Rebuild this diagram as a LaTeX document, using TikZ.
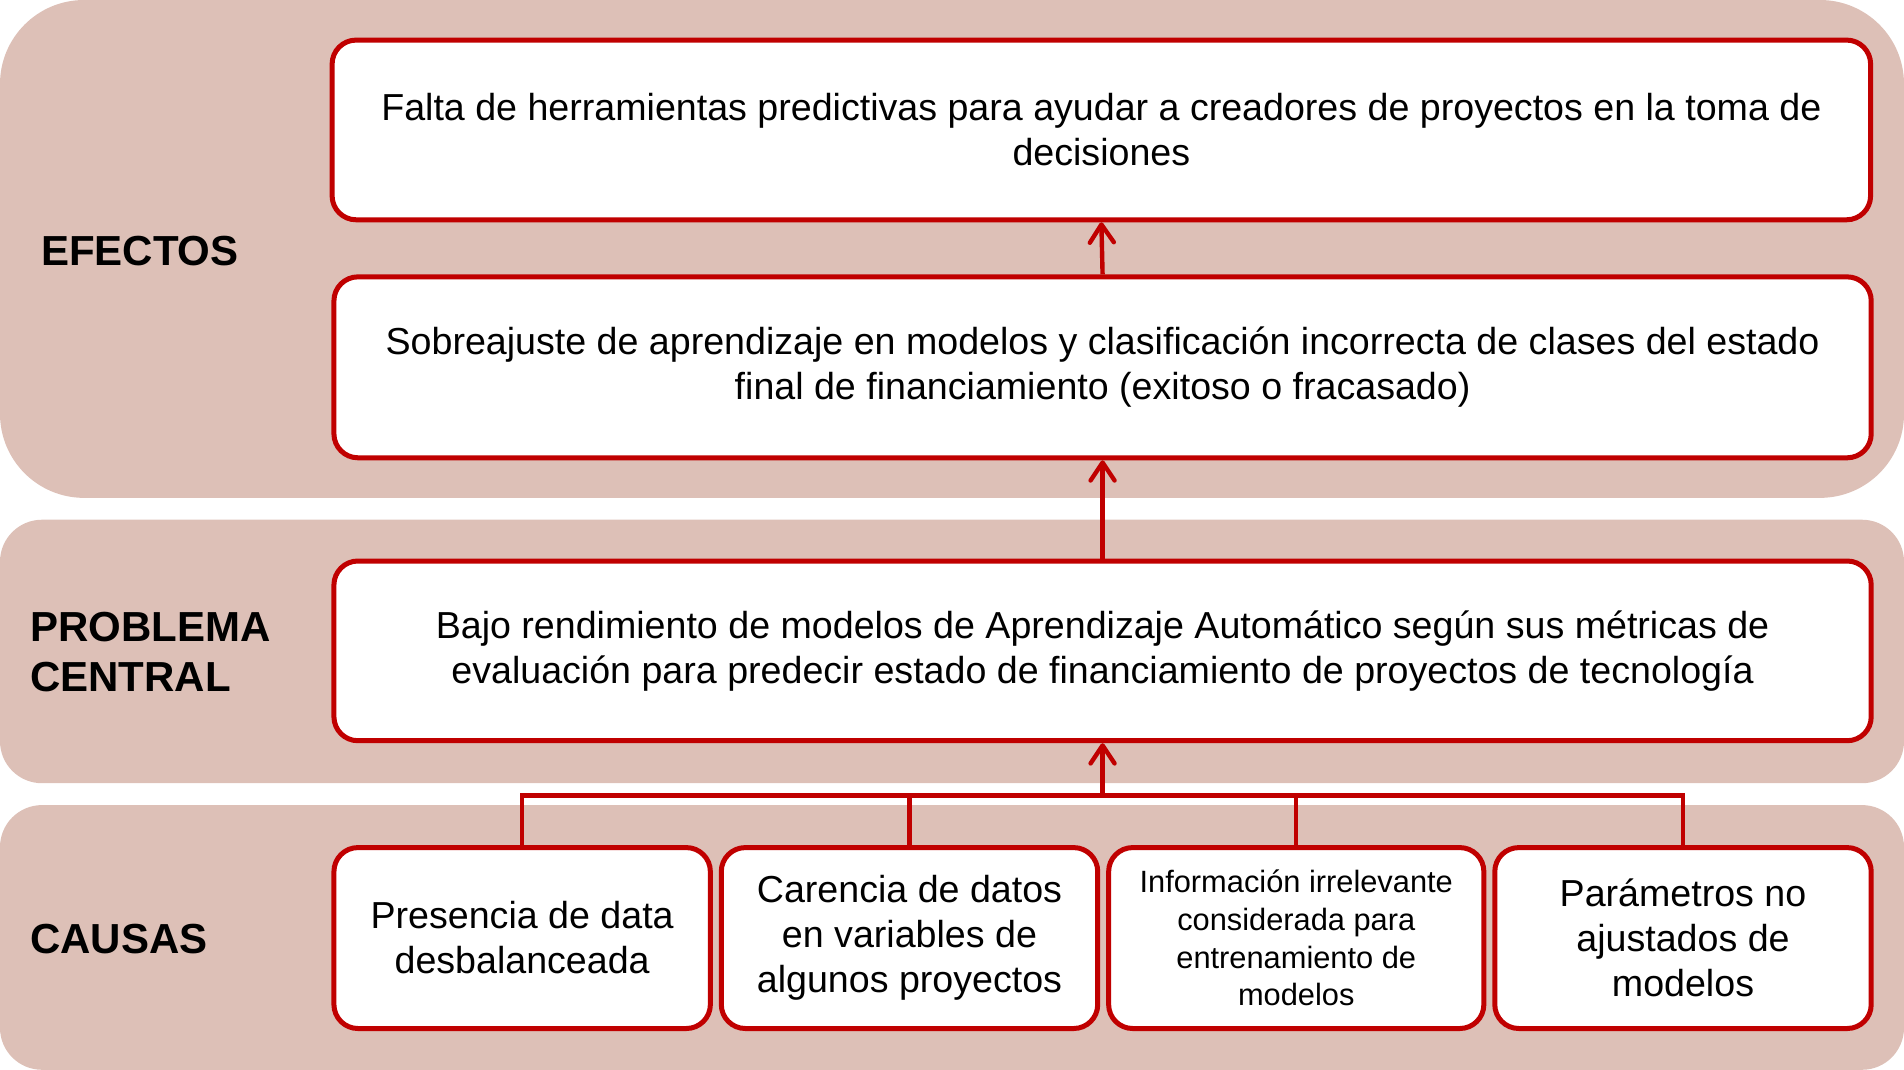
\documentclass[tikz,border=0pt]{standalone}
\usepackage{fontspec}
\setmainfont{Liberation Sans}
\usetikzlibrary{arrows.meta}
\definecolor{banda}{RGB}{221,192,183}
\definecolor{rojo}{RGB}{192,0,0}
\newcommand{\unidad}{0.6071pt}
\tikzset{
  caja/.style={draw=rojo, line width=2.5pt, fill=white, rounded corners=12pt, align=center,
    inner sep=0pt, font=\fontsize{18.8}{22.5}\selectfont},
  tam/.style 2 args={minimum width=#1*\unidad, minimum height=#2*\unidad},
  etiqueta/.style={anchor=west, align=left, font=\fontsize{21}{25}\selectfont\bfseries},
  linea/.style={draw=rojo, line width=2.2pt},
  flecha/.style={linea, -{Straight Barb[length=9pt,width=12pt,round]}}
}
\begin{document}
\begin{tikzpicture}[x=\unidad,y=-\unidad]
     \useasboundingbox (0,0) rectangle (1568,881);
     \fill[banda, rounded corners=42pt] (0,0) rectangle (1568,410);
     \fill[banda, rounded corners=21pt] (0,428) rectangle (1568,645);
     \fill[banda, rounded corners=21pt] (0,663) rectangle (1568,881);

     \node[etiqueta] (efectos) at (28,207) {EFECTOS};
     \node[etiqueta] (problema) at (19,537) {PROBLEMA\\CENTRAL};
     \node[etiqueta] (causas) at (19,773) {CAUSAS};

     \node[caja, tam={1267}{148}] (e1) at (907,107) {Falta de herramientas predictivas para ayudar a creadores de proyectos en la toma de\\decisiones};
     \node[caja, tam={1266}{149}] (e2) at (908,302.5) {Sobreajuste de aprendizaje en modelos y clasificación incorrecta de clases del estado\\final de financiamiento (exitoso o fracasado)};
     \node[caja, tam={1266}{148}] (p) at (908,536) {Bajo rendimiento de modelos de Aprendizaje Automático según sus métricas de\\evaluación para predecir estado de financiamiento de proyectos de tecnología};

     \node[caja, tam={310}{149}] (c1) at (430,772.5) {Presencia de data\\desbalanceada};
     \node[caja, tam={310}{149}] (c2) at (749,772.5) {Carencia de datos\\en variables de\\algunos proyectos};
     \node[caja, tam={309}{149}, font=\fontsize{15.4}{18.8}\selectfont] (c3) at (1067.5,772.5) {Información irrelevante\\considerada para\\entrenamiento de\\modelos};
     \node[caja, tam={310}{149}] (c4) at (1386,772.5) {Parámetros no\\ajustados de\\modelos};

     \coordinate (bus) at (908,655);
     \draw[linea] (c1.north) |- (bus) -| (c4.north);
     \draw[linea] (c2.north) -- (c2.north |- bus);
     \draw[linea] (c3.north) -- (c3.north |- bus);
     \draw[flecha] (bus) -- (p.south);
     \draw[flecha] (p.north) -- (e2.south);
     \draw[flecha] (e2.north) -- (e1.south);
\end{tikzpicture}
\end{document}
